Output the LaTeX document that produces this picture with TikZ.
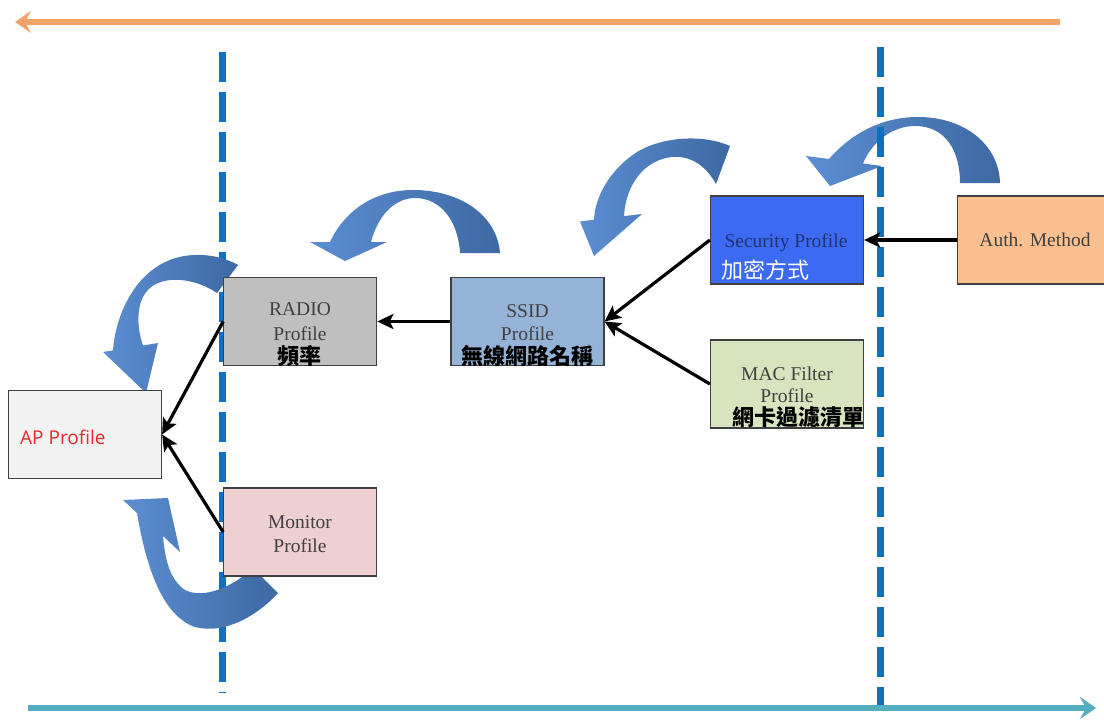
\documentclass[tikz,border=0pt]{standalone}
\usepackage{fontspec}
\setmainfont{Liberation Serif}
\newfontfamily\cjk{Noto Sans CJK TC}
\newfontfamily\apfont{Open Sans}
\usetikzlibrary{arrows.meta}
\definecolor{boxline}{HTML}{404040}
\definecolor{engray}{HTML}{404040}
\definecolor{sectext}{HTML}{1F3470}
\definecolor{apred}{HTML}{E8282B}
\definecolor{fAP}{HTML}{F2F2F2}
\definecolor{fRadio}{HTML}{BFBFBF}
\definecolor{fSSID}{HTML}{95B3D7}
\definecolor{fSec}{HTML}{3D6AF2}
\definecolor{fMAC}{HTML}{D7E4BD}
\definecolor{fAuth}{HTML}{FAC090}
\definecolor{fMon}{HTML}{EDD0CF}
\definecolor{dashblue}{HTML}{1070C4}
\definecolor{orangeL}{HTML}{F4A26A}
\definecolor{tealL}{HTML}{55ADC2}
\definecolor{cL}{HTML}{5B8ED2}
\definecolor{cD}{HTML}{3D69A3}
\begin{document}
\begin{tikzpicture}[x=1pt,y=-1pt,
  box/.style={draw=boxline, line width=1.2pt, minimum width=153pt, minimum height=88pt, inner sep=0pt},
  en/.style={font=\fontsize{19.5}{22}\selectfont, text=engray, inner sep=0pt, anchor=base},
  zh/.style={font=\cjk\bfseries\fontsize{22}{24}\selectfont, text=black, inner sep=0pt, anchor=base},
  conn/.style={line width=3.2pt, draw=black, -{Stealth[length=16pt,width=15pt,inset=3.5pt]}},
  vdash/.style={draw=dashblue, line width=7pt, dash pattern=on 30pt off 10pt},
  toparrow/.style={draw=orangeL, line width=6pt, -{Stealth[length=16pt,width=22pt,inset=6pt]}},
  botarrow/.style={draw=tealL, line width=6pt, -{Stealth[length=16pt,width=22pt,inset=6pt]}},
  carrow/.style={left color=cL, right color=cD, draw=none}
]
\useasboundingbox (0,0) rectangle (1104,720);
\fill[white] (0,0) rectangle (1104,720);

% left dashed line
\coordinate (dlAt) at (222,52);
\coordinate (dlAb) at (222,693);
\draw[vdash] (dlAt) -- (dlAb);

% curved block arrows
% A1 (Auth -> Security)
\shade[carrow] (1000,183) .. controls (999,145) and (965,117) .. (918,117)
  .. controls (880,117) and (850,135) .. (829,159) -- (806,156) -- (830,186)
  -- (882,166) -- (863,163.5) .. controls (872,142) and (892,126) .. (915,126)
  .. controls (945,126) and (960,150) .. (960,183) -- cycle;
% A2 (Security -> SSID)
\shade[carrow] (730,146) .. controls (700,133) and (660,138) .. (637,152)
  .. controls (612,168) and (595,195) .. (594,219.7) -- (580,221.5) -- (594,256)
  -- (642,214) -- (624,216.1) .. controls (625,195) and (635,172) .. (655,162)
  .. controls (675,152) and (700,155) .. (716,184) -- cycle;
% A3 (SSID -> RADIO)
\shade[carrow] (500,253) .. controls (497,215) and (460,190) .. (413,190)
  .. controls (375,190) and (345,210) .. (330,242) -- (310,242) -- (345,261)
  -- (387,242) -- (371,242) .. controls (378,215) and (395,198) .. (415,198)
  .. controls (440,198) and (458,220) .. (460,253) -- cycle;
% A4 (RADIO -> AP)
\shade[carrow] (238,265) .. controls (215,252) and (180,250) .. (155,268)
  .. controls (130,285) and (115,320) .. (113,350.4) -- (103,352) -- (146,393)
  -- (158,343) -- (143,345.5) .. controls (136,325) and (136,300) .. (150,288)
  .. controls (165,275) and (195,278) .. (217,293) -- cycle;
% A5 (Monitor -> AP)
\shade[carrow] (137,513) .. controls (145,560) and (160,615) .. (195,627)
  .. controls (225,635) and (258,615) .. (278,593) -- (253,568)
  .. controls (235,585) and (205,600) .. (185,590)
  .. controls (170,580) and (165,560) .. (163,536) -- (180,552) -- (168,498)
  -- (123,500) -- cycle;

% right dashed line
\coordinate (dlBt) at (880,47);
\coordinate (dlBb) at (880,705);
\draw[vdash] (dlBt) -- (dlBb);

% boxes
\node[box, fill=fAP] (ap) at (85,434.5) {};
\node[box, fill=fRadio] (radio) at (300.25,321.5) {};
\node[box, fill=fSSID] (ssid) at (527.5,321.5) {};
\node[box, fill=fSec] (sec) at (787,240) {};
\node[box, fill=fMAC] (mac) at (787,384) {};
\node[box, fill=fAuth] (auth) at (1034,240) {};
\node[box, fill=fMon] (mon) at (300.25,532) {};

% texts
\node[font=\apfont\fontsize{19}{22}\selectfont, text=apred, anchor=base west, inner sep=0pt] (apA) at (20,444) {AP Profile};
\node[en] (radioA) at (300,315) {RADIO};
\node[en] (radioB) at (300,340) {Profile};
\node[zh] (radioC) at (299,364) {頻率};
\node[en] (ssidA) at (527.5,317) {SSID};
\node[en] (ssidB) at (527.5,340) {Profile};
\node[zh] (ssidC) at (527,364) {無線網路名稱};
\node[en, text=sectext] (secA) at (786,247) {Security Profile};
\node[zh, font=\cjk\fontsize{22}{24}\selectfont, text=white, anchor=base west] (secB) at (721,278) {加密方式};
\node[en] (macA) at (787,380) {MAC Filter};
\node[en] (macB) at (787,402) {Profile};
\node[zh, anchor=base west] (macC) at (732,425) {網卡過濾清單};
\node[en] (authA) at (1035,246) {Auth. Method};
\node[en] (monA) at (300,528) {Monitor};
\node[en] (monB) at (300,552) {Profile};

% connectors
\draw[conn] (auth.west) -- (sec.east);
\draw[conn] (sec.west) -- (ssid.east);
\draw[conn] (mac.west) -- (ssid.east);
\draw[conn] (ssid.west) -- (radio.east);
\draw[conn] (radio.west) -- (ap.east);
\draw[conn] (mon.west) -- (ap.east);

% horizontal arrows
\coordinate (topR) at (1060,22);
\coordinate (topL) at (15,22);
\draw[toparrow] (topR) -- (topL);
\coordinate (botL) at (28,708);
\coordinate (botR) at (1096,708);
\draw[botarrow] (botL) -- (botR);
\end{tikzpicture}
\end{document}
